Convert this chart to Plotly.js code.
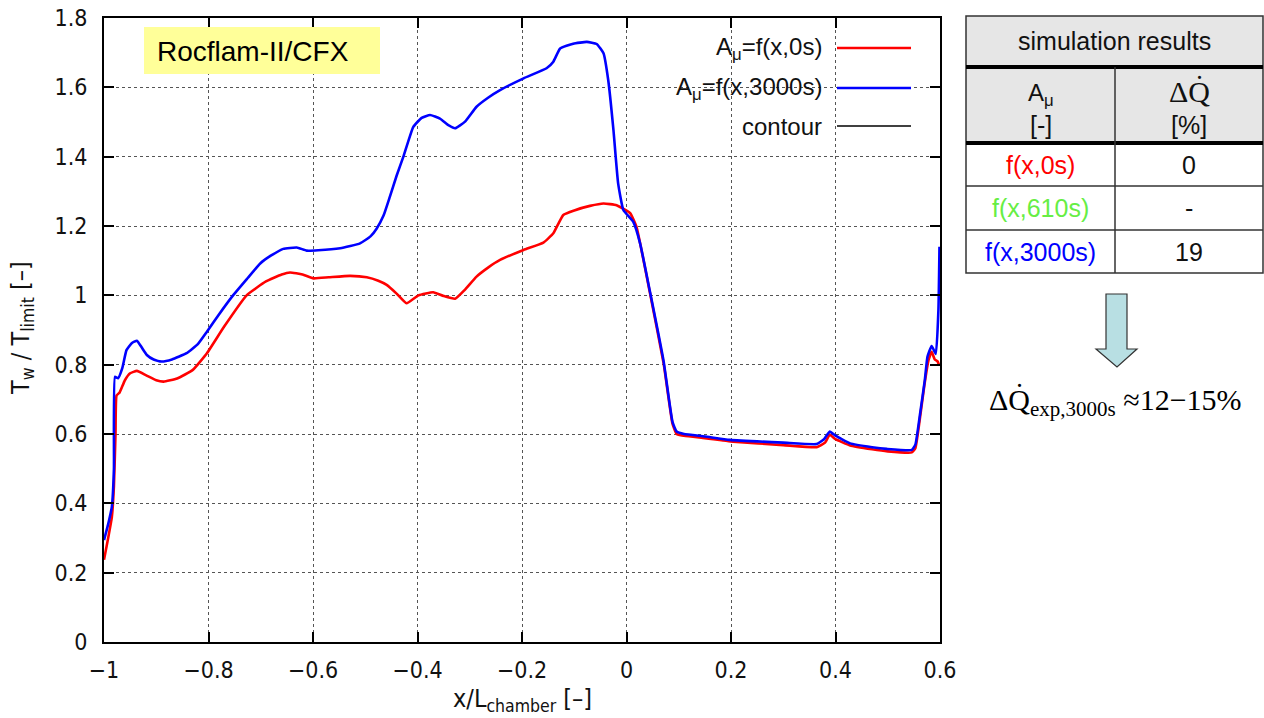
<!DOCTYPE html>
<html>
<head>
<meta charset="utf-8">
<script src="https://cdn.plot.ly/plotly-3.0.1.min.js"></script>
<style>html,body{margin:0;padding:0;background:#fff;}#chart{width:1264px;height:718px;}</style>
</head>
<body>
<div id="chart"></div>
<script>
// ---- data ----
const redX = [-1.0,-0.992,-0.985,-0.981,-0.978,-0.976,-0.970,-0.960,-0.950,-0.937,-0.920,-0.900,-0.886,-0.860,-0.830,-0.803,-0.770,-0.727,-0.690,-0.660,-0.644,-0.620,-0.599,-0.570,-0.529,-0.497,-0.475,-0.459,-0.440,-0.421,-0.398,-0.370,-0.350,-0.328,-0.310,-0.287,-0.265,-0.242,-0.197,-0.159,-0.140,-0.121,-0.100,-0.070,-0.044,-0.019,0.007,0.019,0.045,0.071,0.088,0.096,0.110,0.150,0.204,0.300,0.364,0.380,0.389,0.400,0.428,0.470,0.500,0.546,0.553,0.562,0.570,0.578,0.584,0.590,0.595,0.598];
const redY = [0.237,0.30,0.36,0.45,0.60,0.711,0.72,0.755,0.775,0.782,0.770,0.755,0.751,0.760,0.785,0.833,0.91,1.0,1.04,1.060,1.066,1.060,1.049,1.052,1.056,1.052,1.042,1.030,1.005,0.977,1.000,1.009,0.998,0.990,1.015,1.054,1.080,1.102,1.131,1.152,1.179,1.232,1.245,1.258,1.265,1.260,1.237,1.198,1.006,0.804,0.63,0.600,0.595,0.588,0.578,0.568,0.562,0.575,0.598,0.585,0.567,0.556,0.550,0.547,0.56,0.65,0.74,0.813,0.837,0.815,0.81,0.80];

const blueX = [-1.0,-0.992,-0.985,-0.981,-0.979,-0.973,-0.965,-0.957,-0.947,-0.937,-0.928,-0.918,-0.905,-0.890,-0.870,-0.842,-0.820,-0.803,-0.780,-0.753,-0.725,-0.701,-0.680,-0.657,-0.631,-0.612,-0.590,-0.548,-0.510,-0.490,-0.478,-0.465,-0.453,-0.440,-0.427,-0.408,-0.392,-0.376,-0.357,-0.340,-0.328,-0.309,-0.287,-0.265,-0.242,-0.197,-0.153,-0.140,-0.127,-0.102,-0.076,-0.057,-0.044,-0.035,-0.025,-0.016,-0.006,0.013,0.026,0.045,0.071,0.088,0.096,0.110,0.150,0.198,0.300,0.364,0.378,0.389,0.400,0.428,0.470,0.498,0.546,0.553,0.562,0.571,0.576,0.584,0.592,0.597,0.599];
const blueY = [0.294,0.34,0.39,0.50,0.765,0.761,0.79,0.842,0.862,0.869,0.850,0.828,0.815,0.809,0.815,0.833,0.86,0.895,0.945,1.0,1.05,1.092,1.115,1.134,1.138,1.129,1.130,1.136,1.150,1.170,1.193,1.23,1.284,1.345,1.400,1.486,1.512,1.520,1.510,1.490,1.482,1.501,1.544,1.570,1.592,1.626,1.655,1.674,1.712,1.726,1.731,1.725,1.698,1.621,1.477,1.323,1.246,1.212,1.15,1.01,0.81,0.635,0.607,0.600,0.593,0.583,0.575,0.571,0.585,0.607,0.595,0.573,0.562,0.557,0.554,0.57,0.66,0.756,0.823,0.854,0.831,0.958,1.14];

const seriesNames = ['A<sub>μ</sub>=f(x,0s)', 'A<sub>μ</sub>=f(x,3000s)', 'contour'];
const xTicks = [-1,-0.8,-0.6,-0.4,-0.2,0,0.2,0.4,0.6];
const yTicks = [0,0.2,0.4,0.6,0.8,1,1.2,1.4,1.6,1.8];

const tableTitle = 'simulation results';
const tableHead = [['A<sub>μ</sub>','[-]'], ['ΔQ̇','[%]']];
const tableRows = ['f(x,0s)','f(x,610s)','f(x,3000s)'];
const tableVals = ['0','-','19'];
const tableColors = ['#ff0000','#66ee44','#0000ff'];
const boxLabel = 'Rocflam-II/CFX';
const formula = 'ΔQ̇<sub>exp,3000s</sub> ≈12−15%';

// ---- layout helpers (pixel -> paper) ----
const L = 104, R = 940, T = 18, B = 642;
const px = v => (v - L) / (R - L);
const py = v => (B - v) / (B - T);

const tickFont = {family: 'Liberation Sans Narrow, DejaVu Sans Condensed, Arial, sans-serif', size: 23, color: '#111'};
const titleFont = {family: 'Liberation Sans Narrow, DejaVu Sans Condensed, Arial, sans-serif', size: 25, color: '#111'};
const sans = 'Liberation Sans, Arial, sans-serif';
const serif = 'Liberation Serif, Times New Roman, serif';

const traces = [
  {x: redX, y: redY, mode: 'lines', line: {color: '#ff0000', width: 2.6, shape: 'spline', smoothing: 0.4}, showlegend: false, hoverinfo: 'skip'},
  {x: blueX, y: blueY, mode: 'lines', line: {color: '#0000ff', width: 2.6, shape: 'spline', smoothing: 0.4}, showlegend: false, hoverinfo: 'skip'}
];

const shapes = [];
const annotations = [];

// legend (gnuplot style: text right, sample line after)
const legColors = ['#ff0000', '#0000ff', '#000000'];
const legY = [48, 88, 126];
const legW = [2.6, 2.6, 1.3];
for (let i = 0; i < seriesNames.length; i++) {
  annotations.push({xref: 'paper', yref: 'paper', x: px(824), y: py(legY[i]), xanchor: 'right', yanchor: 'middle',
    text: seriesNames[i], showarrow: false, font: {family: sans, size: 24, color: '#111'}});
  shapes.push({type: 'line', xref: 'paper', yref: 'paper', x0: px(837), x1: px(911), y0: py(legY[i]), y1: py(legY[i]),
    line: {color: legColors[i], width: legW[i]}});
}

// yellow label box
shapes.push({type: 'rect', xref: 'paper', yref: 'paper', x0: px(144), x1: px(380), y0: py(27), y1: py(74),
  fillcolor: '#ffff99', line: {width: 0}, layer: 'above'});
annotations.push({xref: 'paper', yref: 'paper', x: px(155), y: py(51), xanchor: 'left', yanchor: 'middle',
  text: boxLabel, showarrow: false, font: {family: sans, size: 28, color: '#000'}});

// table
const tL = 966, tR = 1263, tM = 1115;
const rowsY = [16, 67, 143, 186, 230, 273];
shapes.push({type: 'rect', xref: 'paper', yref: 'paper', x0: px(tL), x1: px(tR), y0: py(rowsY[0]), y1: py(rowsY[2]),
  fillcolor: '#e6e6e6', line: {width: 0}});
shapes.push({type: 'rect', xref: 'paper', yref: 'paper', x0: px(tL), x1: px(tR), y0: py(rowsY[0]), y1: py(rowsY[5]),
  fillcolor: 'rgba(0,0,0,0)', line: {color: '#333', width: 1.5}});
for (let k = 1; k < 5; k++) {
  const thick = (k === 1 || k === 2);
  shapes.push({type: 'line', xref: 'paper', yref: 'paper', x0: px(tL), x1: px(tR), y0: py(rowsY[k]), y1: py(rowsY[k]),
    line: {color: thick ? '#000' : '#333', width: thick ? 4 : 1.5}});
}
shapes.push({type: 'line', xref: 'paper', yref: 'paper', x0: px(tM), x1: px(tM), y0: py(rowsY[1]), y1: py(rowsY[5]),
  line: {color: '#333', width: 1.5}});
annotations.push({xref: 'paper', yref: 'paper', x: px((tL + tR) / 2), y: py(41), xanchor: 'center', yanchor: 'middle',
  text: tableTitle, showarrow: false, font: {family: sans, size: 25, color: '#111'}});
const colC = [(tL + tM) / 2, (tM + tR) / 2];
for (let c = 0; c < 2; c++) {
  annotations.push({xref: 'paper', yref: 'paper', x: px(colC[c]), y: py(c === 0 ? 94 : 91), xanchor: 'center', yanchor: 'middle',
    text: tableHead[c][0], showarrow: false, font: {family: c === 0 ? sans : serif, size: c === 0 ? 24 : 30, color: '#111'}});
  annotations.push({xref: 'paper', yref: 'paper', x: px(colC[c]), y: py(125), xanchor: 'center', yanchor: 'middle',
    text: tableHead[c][1], showarrow: false, font: {family: sans, size: 25, color: '#111'}});
}
for (let r = 0; r < tableRows.length; r++) {
  const yc = (rowsY[r + 2] + rowsY[r + 3]) / 2;
  annotations.push({xref: 'paper', yref: 'paper', x: px(colC[0]), y: py(yc), xanchor: 'center', yanchor: 'middle',
    text: tableRows[r], showarrow: false, font: {family: sans, size: 25, color: tableColors[r]}});
  annotations.push({xref: 'paper', yref: 'paper', x: px(colC[1]), y: py(yc), xanchor: 'center', yanchor: 'middle',
    text: tableVals[r], showarrow: false, font: {family: sans, size: 25, color: '#111'}});
}

// arrow
const ap = [[1106,294],[1127,294],[1127,349],[1137,349],[1117,367],[1096,349],[1106,349]];
let path = '';
ap.forEach((p, i) => { path += (i === 0 ? 'M ' : ' L ') + px(p[0]) + ',' + py(p[1]); });
path += ' Z';
shapes.push({type: 'path', xref: 'paper', yref: 'paper', path: path, fillcolor: '#b8dfe3', line: {color: '#333', width: 1.2}});

// formula
annotations.push({xref: 'paper', yref: 'paper', x: px(1115), y: py(402), xanchor: 'center', yanchor: 'middle',
  text: formula, showarrow: false, font: {family: serif, size: 30, color: '#000'}});

// axis titles
annotations.push({xref: 'paper', yref: 'paper', x: px(522), y: py(700), xanchor: 'center', yanchor: 'middle',
  text: 'x/L<sub>chamber</sub> [–]', showarrow: false, font: titleFont});
annotations.push({xref: 'paper', yref: 'paper', x: px(22), y: py(328), xanchor: 'center', yanchor: 'middle', textangle: -90,
  text: 'T<sub>w</sub> / T<sub>limit</sub> [–]', showarrow: false, font: titleFont});

const axisCommon = {
  showline: true, linecolor: '#000', linewidth: 2, mirror: 'ticks',
  ticks: 'inside', ticklen: 10, tickwidth: 2, tickcolor: '#000',
  showgrid: true, gridcolor: '#555', gridwidth: 1, griddash: 'dot',
  zeroline: false, tickfont: tickFont, fixedrange: true
};

const layout = {
  width: 1264, height: 718,
  margin: {l: L, r: 1264 - R, t: T, b: 718 - B, pad: 0},
  paper_bgcolor: '#fff', plot_bgcolor: '#fff',
  xaxis: Object.assign({}, axisCommon, {range: [-1, 0.6], tickvals: xTicks, ticklabelstandoff: 6}),
  yaxis: Object.assign({}, axisCommon, {range: [0, 1.8], tickvals: yTicks, ticklabelstandoff: 10}),
  shapes: shapes, annotations: annotations, showlegend: false
};

Plotly.newPlot('chart', traces, layout, {displayModeBar: false, staticPlot: true});
</script>
</body>
</html>
